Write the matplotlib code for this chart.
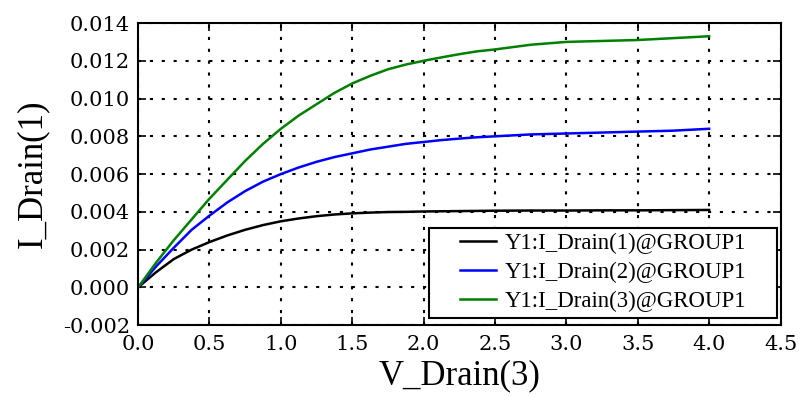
import numpy as np
import matplotlib.pyplot as plt
from matplotlib.patches import Rectangle

# values
v_drain = [0.0, 0.125, 0.25, 0.375, 0.5, 0.625, 0.75, 0.875, 1.0, 1.125, 1.25, 1.375, 1.5, 1.625, 1.75, 1.875,
           2.0, 2.125, 2.25, 2.375, 2.5, 2.75, 3.0, 3.25, 3.5, 3.75, 4.0]
i_drain1 = [0.0, 0.0008, 0.0015, 0.0020, 0.0024, 0.00275, 0.00305, 0.0033, 0.0035, 0.00365, 0.00377, 0.00386,
            0.00392, 0.00396, 0.00399, 0.0040, 0.00402, 0.00403, 0.00404, 0.00405, 0.00406, 0.00407, 0.00407,
            0.00408, 0.00408, 0.00409, 0.0041]
i_drain2 = [0.0, 0.0011, 0.0021, 0.00305, 0.0038, 0.0045, 0.0051, 0.0056, 0.0060, 0.00635, 0.00665, 0.0069, 0.0071,
            0.0073, 0.00745, 0.0076, 0.0077, 0.0078, 0.00788, 0.00795, 0.0080, 0.0081, 0.00815, 0.0082, 0.00825,
            0.0083, 0.0084]
i_drain3 = [0.0, 0.0013, 0.0025, 0.0036, 0.0047, 0.0057, 0.0067, 0.0076, 0.0084, 0.0091, 0.0097, 0.0103, 0.0108,
            0.0112, 0.01155, 0.0118, 0.0120, 0.01218, 0.01235, 0.0125, 0.0126, 0.01285, 0.0130, 0.01305, 0.0131,
            0.0132, 0.0133]
labels = ["Y1:I_Drain(1)@GROUP1", "Y1:I_Drain(2)@GROUP1", "Y1:I_Drain(3)@GROUP1"]
colors = ["black", "blue", "green"]

plt.rcParams['font.family'] = 'DejaVu Serif'

fig = plt.figure(figsize=(8.03, 3.97), dpi=100)
ax = fig.add_axes([0.172, 0.181, 0.800, 0.761])

for y, lab, c in zip([i_drain1, i_drain2, i_drain3], labels, colors):
    ax.plot(v_drain, y, color=c, lw=1.8, label=lab)

ax.set_xlim(0, 4.5)
ax.set_ylim(-0.002, 0.014)
ax.set_xticks(np.arange(0, 4.51, 0.5))
yt = np.arange(-0.002, 0.0141, 0.002)
ax.set_yticks(yt)
ax.set_yticklabels(["%.3f" % t for t in yt])
ax.grid(True, color='black', linestyle=(0, (1.5, 4.2)), linewidth=1.5)
ax.tick_params(direction='in', length=6, width=1.2, top=True, right=True, labelsize=15)
ax.tick_params(axis='x', pad=7)
ax.tick_params(axis='y', pad=6)
for s in ax.spines.values():
    s.set_linewidth(1.5)

ax.set_xlabel("V_Drain(3)", fontsize=25, family='Liberation Serif', labelpad=4)
ax.set_ylabel("I_Drain(1)", fontsize=25, family='Liberation Serif', labelpad=10)

# legend box (wider than the entries, as in the original)
ax.add_patch(Rectangle((0.4526, 0.023), 0.5427, 0.298, transform=ax.transAxes,
                       facecolor='white', edgecolor='black', lw=1.5, zorder=4.5))
leg = ax.legend(loc='upper left', bbox_to_anchor=(0.5008, 0.3047), frameon=False,
                prop={'family': 'Liberation Serif', 'size': 16.5}, handlelength=1.6,
                borderpad=0, labelspacing=0.34, handletextpad=0.35, borderaxespad=0)
leg.set_zorder(5)

fig.savefig("out.png", dpi=100)
